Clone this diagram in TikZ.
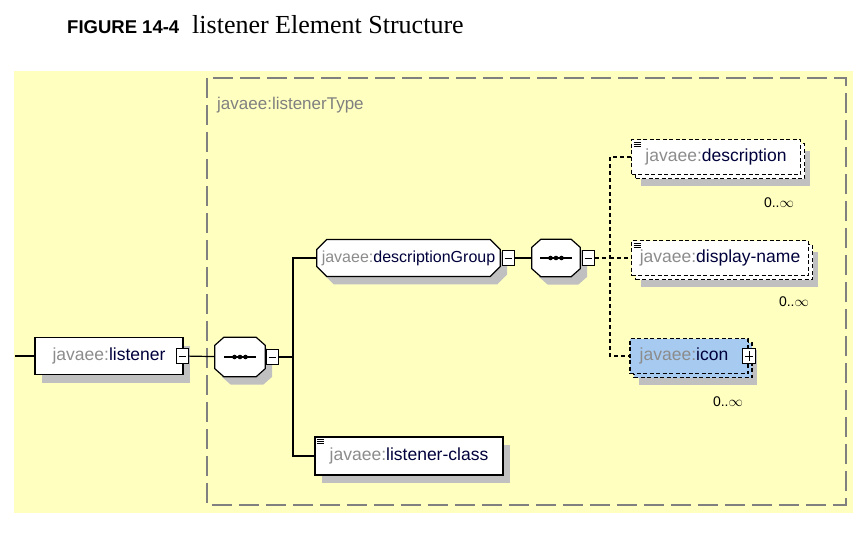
\documentclass[tikz,border=0pt]{standalone}
\usepackage{fontspec}
\setmainfont{Liberation Serif}
\setsansfont{Liberation Sans}
\usepackage{tikz}
\usetikzlibrary{shapes.misc,shadows,positioning}
\definecolor{bgyellow}{RGB}{255,255,192}
\definecolor{framegray}{RGB}{128,128,128}
\definecolor{shgray}{RGB}{192,192,192}
\definecolor{nsgray}{RGB}{140,140,140}
\definecolor{namecol}{RGB}{0,0,60}
\definecolor{iconblue}{RGB}{166,202,240}
\newcommand{\jv}[1]{{\color{nsgray}javaee:}{\color{namecol}#1}}

\begin{document}
\begin{tikzpicture}[x=1pt, y=-1pt,
    base/.style={draw, line width=1.2pt, fill=white, rectangle, inner sep=0pt,
        minimum height=37pt, font=\sffamily\fontsize{17.5}{20}\selectfont},
    elem/.style={base, drop shadow={shadow xshift=7pt, shadow yshift=-8pt, fill=shgray, opacity=1}},
    docmark/.style={path picture={
        \foreach \k in {0,1,2}
          \draw[line width=0.8pt, solid] ([xshift=2pt, yshift=-(2.5+2*\k)*1pt]path picture bounding box.north west) -- ++(7pt,0pt);}},
    optelem/.style={base, minimum height=35pt, dash pattern=on 4pt off 2.5pt,
        drop shadow={shadow xshift=9pt, shadow yshift=-11pt, fill=shgray, opacity=1, draw=none},
        copy shadow={shadow xshift=4pt, shadow yshift=-4pt, draw=black, fill=white, dash pattern=on 4pt off 2.5pt}},
    groupbox/.style={elem, chamfered rectangle, minimum height=0pt, inner xsep=0pt, inner ysep=6pt,
        chamfered rectangle xsep=5pt, chamfered rectangle ysep=5pt, font=\sffamily\fontsize{16}{19}\selectfont},
    seqbox/.style={rectangle, inner sep=0pt, minimum width=50pt, minimum height=39pt},
    seqline/.style={draw, line width=1.2pt, fill=white, drop shadow={shadow xshift=7pt, shadow yshift=-8pt, fill=shgray, opacity=1}},
    minusbox/.style={draw, line width=1pt, fill=white, minimum width=12pt, minimum height=15pt, inner sep=0pt,
        path picture={\draw[line width=1pt] ([xshift=2.5pt]path picture bounding box.west) -- ([xshift=-2.5pt]path picture bounding box.east);}},
    plusbox/.style={draw, line width=1pt, fill=white, minimum width=13pt, minimum height=15pt, inner sep=0pt,
        path picture={\draw[line width=1pt] ([xshift=2.5pt]path picture bounding box.west) -- ([xshift=-2.5pt]path picture bounding box.east);
          \draw[line width=1pt] ([yshift=-2.5pt]path picture bounding box.north) -- ([yshift=2.5pt]path picture bounding box.south);}},
    link/.style={line width=1.2pt},
    optlink/.style={line width=1.2pt, dash pattern=on 4pt off 3pt},
    mult/.style={font=\sffamily\fontsize{14}{16}\selectfont}
  ]
        \useasboundingbox (0,0) rectangle (866,538);

        % Caption
        \node[anchor=base west, inner sep=0pt, font=\sffamily\bfseries\fontsize{18.5}{20}\selectfont] (figno) at (67,33) {FIGURE 14-4};
        \node[anchor=base west, inner sep=0pt, font=\fontsize{26}{28}\selectfont] (figtitle) at (192,33) {listener Element Structure};

        % Background and type frame
        \fill[bgyellow] (14,71) rectangle (853,513);
        \draw[framegray, line width=1.5pt, dash pattern=on 20pt off 7pt] (207,78) rectangle (846,505);
        \node[anchor=base west, inner sep=0pt, text=framegray, font=\sffamily\fontsize{17}{19}\selectfont] (typename) at (217,109) {javaee:listenerType};

        % Root element (left)
        \coordinate (entry) at (15,356);
        \node[elem, minimum width=148pt] (listener) at (109,356) {\jv{listener}};
        \node[minusbox] (lmin) at (182,356) {};
        \node[seqbox] (seq1) at (240,357) {};
        \coordinate (split) at (293,357);

        % Children of the sequence
        \node[groupbox] (dgroup) at (408.5,258) {\jv{descriptionGroup}};
        \node[minusbox] (dgmin) at (508,258) {};
        \node[elem, docmark, minimum width=188pt, minimum height=38pt] (lclass) at (409,456) {\jv{listener-class}};

        % Description group (right)
        \node[seqbox, minimum width=48pt, minimum height=37pt] (seq2) at (556,258) {};
        \coordinate (split2) at (610,258);

        % sequence compositors
        \foreach \s in {seq1,seq2} {
          \draw[seqline] ([xshift=9pt]\s.north west) -- ([xshift=-9pt]\s.north east)
            -- ([yshift=-8pt]\s.north east) -- ([yshift=8pt]\s.south east)
            -- ([xshift=-9pt]\s.south east) -- ([xshift=9pt]\s.south west)
            -- ([yshift=8pt]\s.south west) -- ([yshift=-8pt]\s.north west) -- cycle;
          \draw[line width=1.3pt] ([xshift=-16pt]\s.center) -- ([xshift=16pt]\s.center);
          \foreach \dx in {-5.5,0,5.5}
            \fill ([xshift=\dx pt]\s.center) circle (2.3pt);
        }
        \node[minusbox] (s1min) at (272,357) {};
        \node[minusbox] (s2min) at (588,258) {};

        \draw[link] (entry) -- (listener);
        \draw[link] (lmin) -- (seq1);
        \draw[link] (s1min) -- (split);
        \draw[link] (dgroup.west) -| (split) |- (lclass.west);
        \draw[link] (dgmin) -- (seq2);
        \draw[optlink] (s2min) -- (split2);

        \node[optelem, docmark, minimum width=169pt] (desc) at (716,157) {\jv{description}};
        \node[optelem, docmark, minimum width=177pt] (dname) at (720,258) {\jv{display-name}};
        \node[optelem, minimum width=118pt, fill=iconblue,
              copy shadow={shadow xshift=4pt, shadow yshift=-4pt, draw=black, fill=iconblue, dash pattern=on 4pt off 2.5pt}] (icon) at (689,356) {\jv{icon}\hspace*{10pt}};
        \node[plusbox] (imin) at (749,356) {};

        \draw[optlink] (desc.west) -| (split2) |- (icon.west);
        \draw[optlink] (split2) -- (dname.west);

        \node[mult] (descmult) at (779,203) {0..$\infty$};
        \node[mult] (dnamemult) at (794,302) {0..$\infty$};
        \node[mult] (iconmult) at (728,402) {0..$\infty$};

\end{tikzpicture}
\end{document}
